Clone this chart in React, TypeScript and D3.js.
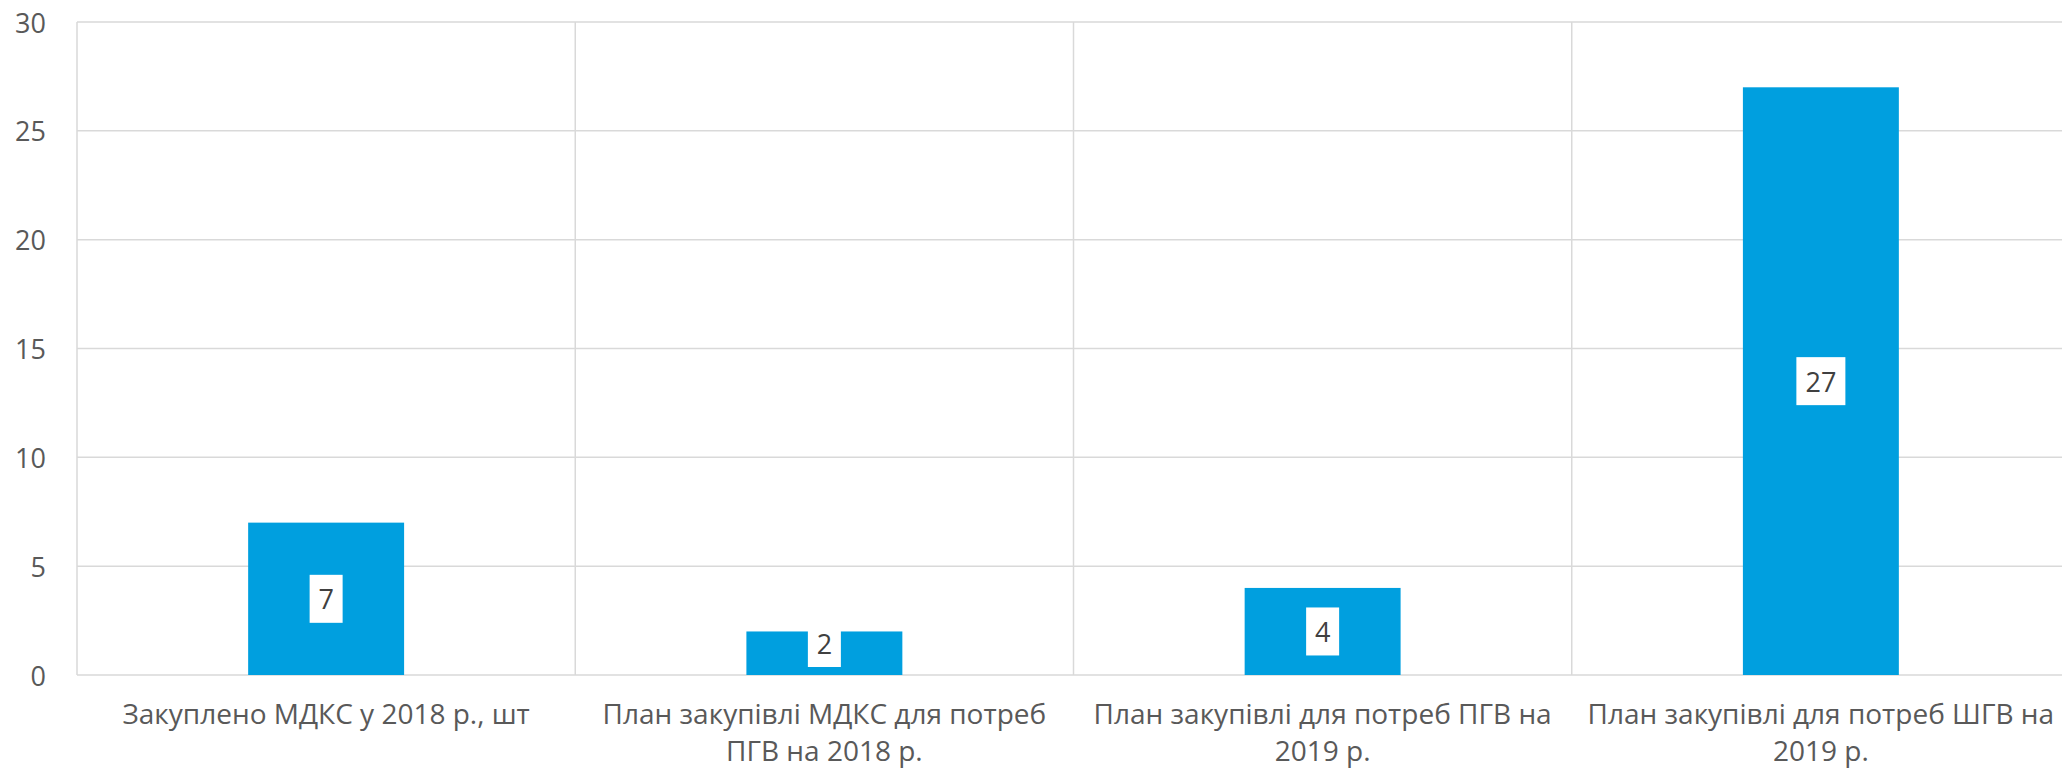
import { useRef, useEffect } from 'react';
import * as d3 from 'd3';

const categories: string[][] = [
  ['Закуплено МДКС у 2018 р., шт'],
  ['План закупівлі МДКС для потреб', 'ПГВ на 2018 р.'],
  ['План закупівлі для потреб ПГВ на', '2019 р.'],
  ['План закупівлі для потреб ШГВ на', '2019 р.'],
];
const values = [7, 2, 4, 27];
const yTicks = [0, 5, 10, 15, 20, 25, 30];

const WIDTH = 2062;
const HEIGHT = 770;
const PLOT = { left: 77, right: 2070, top: 22, bottom: 675 };
const BAR_COLOR = '#009fdf';
const GRID_COLOR = '#d9d9d9';
const TEXT_COLOR = '#595959';
const FONT = '"Open Sans", "Noto Sans", sans-serif';

export default function App() {
  const svgRef = useRef<SVGSVGElement>(null);

  useEffect(() => {
    if (!svgRef.current) return;
    const svg = d3.select(svgRef.current);
    svg.selectAll('*').remove();

    const idx = categories.map((_, i) => i);
    const x = d3.scaleBand<number>()
      .domain(idx)
      .range([PLOT.left, PLOT.right])
      .paddingInner(0.687)
      .paddingOuter(0.3435);
    const step = x.step();
    const y = d3.scaleLinear().domain([0, 30]).range([PLOT.bottom, PLOT.top]);

    const g = svg.append('g');

    // horizontal gridlines
    g.append('g')
      .selectAll('line')
      .data(yTicks)
      .join('line')
      .attr('x1', PLOT.left)
      .attr('x2', PLOT.right)
      .attr('y1', d => y(d))
      .attr('y2', d => y(d))
      .attr('stroke', GRID_COLOR)
      .attr('stroke-width', 1.5);

    // vertical category separators
    const bounds = d3.range(categories.length + 1).map(i => PLOT.left + i * (PLOT.right - PLOT.left) / categories.length);
    g.append('g')
      .selectAll('line')
      .data(bounds)
      .join('line')
      .attr('x1', d => d)
      .attr('x2', d => d)
      .attr('y1', PLOT.top)
      .attr('y2', PLOT.bottom)
      .attr('stroke', GRID_COLOR)
      .attr('stroke-width', 1.5);

    // y tick labels
    g.append('g')
      .selectAll('text')
      .data(yTicks)
      .join('text')
      .attr('x', 46)
      .attr('y', d => y(d))
      .attr('text-anchor', 'end')
      .attr('dominant-baseline', 'central')
      .attr('fill', TEXT_COLOR)
      .attr('font-family', FONT)
      .attr('font-size', '27px')
      .text(d => d);

    // bars
    g.append('g')
      .selectAll('rect')
      .data(values)
      .join('rect')
      .attr('x', (_, i) => x(i) ?? 0)
      .attr('width', x.bandwidth())
      .attr('y', d => y(d))
      .attr('height', d => y(0) - y(d))
      .attr('fill', BAR_COLOR);

    // data labels in white boxes
    const labels = g.append('g')
      .selectAll('g')
      .data(values)
      .join('g')
      .attr('transform', (d, i) => {
        const cx = (x(i) ?? 0) + x.bandwidth() / 2;
        const cy = Math.min((y(d) + y(0)) / 2, y(0) - 32);
        return `translate(${cx},${cy})`;
      });
    labels.append('rect')
      .attr('x', d => -(String(d).length * 16 + 17) / 2)
      .attr('width', d => String(d).length * 16 + 17)
      .attr('y', -24)
      .attr('height', 48)
      .attr('fill', '#ffffff');
    labels.append('text')
      .attr('text-anchor', 'middle')
      .attr('dominant-baseline', 'central')
      .attr('fill', '#404040')
      .attr('font-family', FONT)
      .attr('font-size', '27px')
      .text(d => d);

    // category labels
    g.append('g')
      .selectAll('text')
      .data(categories)
      .join('text')
      .attr('x', (_, i) => PLOT.left + step * (i + 0.5))
      .attr('text-anchor', 'middle')
      .attr('fill', TEXT_COLOR)
      .attr('font-family', FONT)
      .attr('font-size', '28px')
      .selectAll('tspan')
      .data(d => d)
      .join('tspan')
      .attr('x', function () {
        return (this.parentNode as SVGTextElement).getAttribute('x');
      })
      .attr('y', (_, j) => 724 + j * 37)
      .text(d => d);
  }, []);

  return (
    <svg
      ref={svgRef}
      width={WIDTH}
      height={HEIGHT}
      style={{ position: 'absolute', left: 0, top: 0, background: '#fff' }}
    />
  );
}
